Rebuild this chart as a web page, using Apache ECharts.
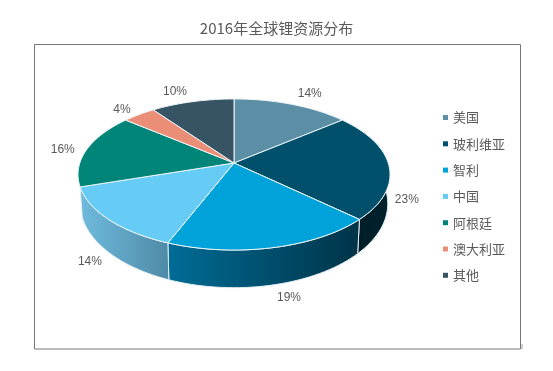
<!DOCTYPE html>
<html><head><meta charset="utf-8">
<style>html,body{margin:0;padding:0;background:#fff}#c{width:553px;height:371px}</style>
<script src="https://cdn.jsdelivr.net/npm/echarts@6/dist/echarts.min.js"></script>
</head><body><div id="c"></div>
<script>
const titleText = '2016年全球锂资源分布';
const countries = ['美国','玻利维亚','智利','中国','阿根廷','澳大利亚','其他'];
const shares = [14,23,19,14,16,4,10];
const shareLabels = ['14%','23%','19%','14%','16%','4%','10%'];
const topColors = ['#5b8fa6','#00506b','#00a2da','#66ccf5','#008578','#eb8e78','#375464'];
const wallColors = [null,['#001a22','#00232e'],['#006c96','#003347'],['#6fbbde','#4f8aa6'],null,null,null];
const labelShift = [[18,-10.5],[18,34.5],[15.5,50],[-18.6,42.2],[-24,0],[-17,-5],[-17.4,-10]];

// perspective view of the disc
const apexX = 234, tilt = 0.152;
const topDisc = {y:163, a:154.2, b:73.8};
const lowDisc = {y:191, a:152, b:82};
const total = shares.reduce((s,v)=>s+v,0);
function project(disc, deg){
  const t = deg*Math.PI/180, u = Math.sin(t), v = -Math.cos(t), d = 1 - tilt*v;
  return [apexX + disc.a*u/d, disc.y + disc.b*v/d];
}
function arc(disc, from, to){
  const pts = [], n = Math.max(2, Math.ceil(Math.abs(to-from)/2));
  for(let i=0;i<=n;i++) pts.push(project(disc, from+(to-from)*i/n));
  return pts;
}
function range(i){
  let before = 0;
  for(let k=0;k<i;k++) before += shares[k];
  return [before/total*360, (before+shares[i])/total*360];
}
const wallSeries = {
  type:'custom', name:'侧面', coordinateSystem:'none', silent:true, animation:false,
  data: shares.map((v,i)=>[i,v]),
  renderItem(params, api){
    const i = api.value(0), [a,b] = range(i);
    if(!wallColors[i]) return null;
    const pts = arc(topDisc,a,b).concat(arc(lowDisc,b,a));
    return {type:'polygon', shape:{points:pts}, style:{
      fill:{type:'linear',x:0,y:0,x2:1,y2:0,colorStops:[{offset:0,color:wallColors[i][0]},{offset:1,color:wallColors[i][1]}]},
      stroke:'#e4eef2', lineWidth:1}};
  }
};
const sliceSeries = countries.map((name,i)=>({
  type:'custom', name, coordinateSystem:'none', silent:true, animation:false,
  itemStyle:{color:topColors[i]},
  data:[[shares[i]]],
  renderItem(){
    const [a,b] = range(i);
    const rim = arc(topDisc,a,b);
    const mid = project(topDisc,(a+b)/2);
    return {type:'group', children:[
      {type:'polygon', z2:1, shape:{points:[[apexX, topDisc.y]].concat(rim)}, style:{fill:topColors[i], stroke:'#eef6f9', lineWidth:1, lineJoin:'round'}},
      {type:'text', z2:5, style:{text:shareLabels[i], x:mid[0]+labelShift[i][0], y:mid[1]+labelShift[i][1],
        align:'center', verticalAlign:'middle', fill:'#595959', font:'12px "Liberation Sans", Arial, sans-serif'}}
    ]};
  }
}));
const chart = echarts.init(document.getElementById('c'), null, {renderer:'canvas'});
chart.setOption({
  animation:false, backgroundColor:'#fff',
  title:{text:titleText, left:'center', top:21, padding:0,
    textStyle:{color:'#595959', fontSize:15, fontWeight:'normal', fontFamily:'"Noto Sans CJK SC"'}},
  legend:{orient:'vertical', left:443, top:111, itemWidth:5, itemHeight:5, itemGap:13.3, icon:'rect', padding:0, selectedMode:false,
    data:countries.map((name,i)=>({name, itemStyle:{color:topColors[i]}})),
    textStyle:{color:'#595959', fontSize:13, fontFamily:'"Noto Sans CJK SC"', padding:[0,0,0,0]}},
  graphic:[
    {type:'rect', z:-1, silent:true, shape:{x:34.5,y:44.5,width:486,height:304.5}, style:{fill:'none', stroke:'#767676', lineWidth:1}},
    {type:'line', silent:true, shape:{x1:522,y1:344,x2:522,y2:349}, style:{stroke:'#a0a0a0', lineWidth:1}}
  ],
  series:[wallSeries].concat(sliceSeries)
});
</script></body></html>
